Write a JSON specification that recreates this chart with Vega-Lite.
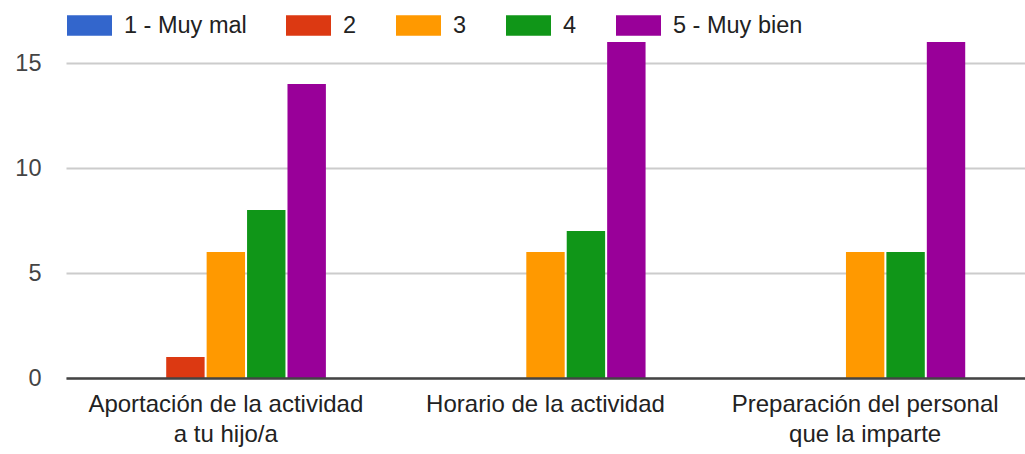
{
  "$schema": "https://vega.github.io/schema/vega-lite/v6.json",
  "width": 959,
  "height": 336,
  "autosize": {"type": "none"},
  "padding": {"left": 66, "top": 42, "right": 0, "bottom": 76},
  "background": "#ffffff",
  "config": {
    "view": {"stroke": null},
    "font": "Liberation Sans"
  },
  "data": {
    "values": [
      {"item": "Aportación de la actividad|a tu hijo/a", "rating": "1 - Muy mal", "count": 0},
      {"item": "Aportación de la actividad|a tu hijo/a", "rating": "2", "count": 1},
      {"item": "Aportación de la actividad|a tu hijo/a", "rating": "3", "count": 6},
      {"item": "Aportación de la actividad|a tu hijo/a", "rating": "4", "count": 8},
      {"item": "Aportación de la actividad|a tu hijo/a", "rating": "5 - Muy bien", "count": 14},
      {"item": "Horario de la actividad", "rating": "1 - Muy mal", "count": 0},
      {"item": "Horario de la actividad", "rating": "2", "count": 0},
      {"item": "Horario de la actividad", "rating": "3", "count": 6},
      {"item": "Horario de la actividad", "rating": "4", "count": 7},
      {"item": "Horario de la actividad", "rating": "5 - Muy bien", "count": 16},
      {"item": "Preparación del personal|que la imparte", "rating": "1 - Muy mal", "count": 0},
      {"item": "Preparación del personal|que la imparte", "rating": "2", "count": 0},
      {"item": "Preparación del personal|que la imparte", "rating": "3", "count": 6},
      {"item": "Preparación del personal|que la imparte", "rating": "4", "count": 6},
      {"item": "Preparación del personal|que la imparte", "rating": "5 - Muy bien", "count": 16}
    ]
  },
  "mark": {"type": "bar"},
  "encoding": {
    "x": {
      "field": "item",
      "type": "nominal",
      "sort": null,
      "scale": {"paddingInner": 0.374, "paddingOuter": 0.187},
      "axis": {
        "title": null,
        "labelAngle": 0,
        "labelExpr": "split(datum.label, '|')",
        "labelFontSize": 24,
        "labelColor": "#222222",
        "labelLineHeight": 30,
        "labelPadding": 14,
        "ticks": false,
        "domainColor": "#444444",
        "domainWidth": 2.5,
        "labelLimit": 400,
        "zindex": 1
      }
    },
    "xOffset": {
      "field": "rating",
      "type": "nominal",
      "sort": ["1 - Muy mal", "2", "3", "4", "5 - Muy bien"],
      "scale": {"paddingInner": 0.05, "paddingOuter": 0}
    },
    "y": {
      "field": "count",
      "type": "quantitative",
      "scale": {"domain": [0, 16], "nice": false},
      "axis": {
        "title": null,
        "values": [0, 5, 10, 15],
        "domain": false,
        "ticks": false,
        "labelFontSize": 23.5,
        "labelColor": "#444444",
        "labelPadding": 25,
        "gridColor": "#cccccc",
        "gridWidth": 2
      }
    },
    "color": {
      "field": "rating",
      "type": "nominal",
      "scale": {
        "domain": ["1 - Muy mal", "2", "3", "4", "5 - Muy bien"],
        "range": ["#3366cc", "#dc3912", "#ff9900", "#109618", "#990099"]
      },
      "legend": {
        "title": null,
        "orient": "none",
        "direction": "horizontal",
        "columns": 5,
        "legendX": 1,
        "legendY": -39,
        "padding": 0,
        "symbolType": "M-1,-0.46H1V0.46H-1Z",
        "symbolSize": 2025,
        "symbolStrokeWidth": 0,
        "symbolOpacity": 1,
        "labelOffset": 12,
        "columnPadding": 39,
        "labelFontSize": 23.5,
        "labelColor": "#222222"
      }
    }
  }
}
